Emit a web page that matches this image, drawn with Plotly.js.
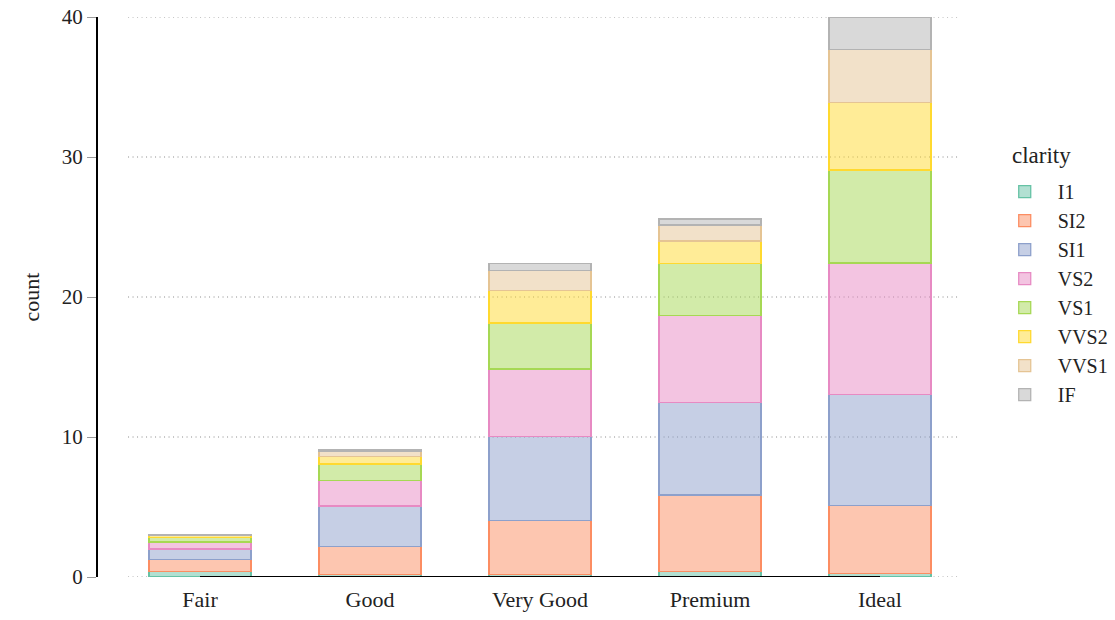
<!DOCTYPE html>
<html>
<head>
<meta charset="utf-8">
<script src="https://cdn.plot.ly/plotly-3.0.1.min.js"></script>
<style>html,body{margin:0;padding:0;background:#fff;}#chart{width:1115px;height:620px;}</style>
</head>
<body>
<div id="chart"></div>
<script>
var cuts = ["Fair", "Good", "Very Good", "Premium", "Ideal"];
var clarityLevels = ["I1", "SI2", "SI1", "VS2", "VS1", "VVS2", "VVS1", "IF"];
var I1   = [0.39, 0.18, 0.16, 0.38, 0.27];
var SI2  = [0.86, 2.00, 3.89, 5.47, 4.82];
var SI1  = [0.76, 2.89, 6.01, 6.63, 7.94];
var VS2  = [0.48, 1.81, 4.80, 6.22, 9.40];
var VS1  = [0.32, 1.20, 3.29, 3.69, 6.65];
var VVS2 = [0.13, 0.53, 2.29, 1.61, 4.83];
var VVS1 = [0.03, 0.34, 1.46, 1.14, 3.79];
var IF   = [0.02, 0.13, 0.50, 0.43, 2.25];
var yTicks = [0, 10, 20, 30, 40];

var seriesValues = [I1, SI2, SI1, VS2, VS1, VVS2, VVS1, IF];
var lineColors = ["rgb(102,194,165)", "rgb(252,141,98)", "rgb(141,160,203)", "rgb(231,138,195)",
                  "rgb(166,216,84)", "rgb(255,217,47)", "rgb(229,196,148)", "rgb(179,179,179)"];
var fillColors = ["rgba(102,194,165,0.5)", "rgba(252,141,98,0.5)", "rgba(141,160,203,0.5)", "rgba(231,138,195,0.5)",
                  "rgba(166,216,84,0.5)", "rgba(255,217,47,0.5)", "rgba(229,196,148,0.5)", "rgba(179,179,179,0.5)"];

var FONT = "Liberation Serif, Times New Roman, serif";
var traces = clarityLevels.map(function (name, i) {
  return {
    type: "bar",
    name: name,
    x: cuts,
    y: seriesValues[i],
    width: 0.6,
    legendgroup: name,
    marker: {color: fillColors[i], line: {color: lineColors[i], width: 1.3}},
    hoverinfo: "x+y+name"
  };
});

var shapes = yTicks.map(function (t) {
  return {type: "line", xref: "paper", yref: "y", x0: 0.034, x1: 0.972, y0: t, y1: t,
          line: {color: "#8a8a8a", width: 1, dash: "1px,3.5px"}, layer: "below"};
});
shapes.push({type: "line", xref: "x", yref: "y", x0: cuts[0], x1: cuts[cuts.length - 1], y0: 0, y1: 0,
             line: {color: "#000", width: 2}, layer: "above"});

var layout = {
  width: 1115, height: 620,
  margin: {l: 98, r: 133, t: 17, b: 43, autoexpand: false},
  paper_bgcolor: "#fff", plot_bgcolor: "#fff",
  barmode: "stack",
  font: {family: FONT, color: "#222", size: 18},
  xaxis: {
    type: "category", range: [-0.6, 4.6], showgrid: false, zeroline: false, showline: false,
    ticks: "", ticklabelstandoff: 7, tickfont: {size: 22, family: FONT, color: "#222"}
  },
  yaxis: {
    range: [0, 40], tickvals: yTicks, showgrid: false, zeroline: false,
    showline: true, linecolor: "#000", linewidth: 2,
    ticks: "outside", ticklen: 9, tickwidth: 1, tickcolor: "#999",
    tickfont: {size: 21, family: FONT, color: "#222"},
    title: {text: "count", font: {size: 22, family: FONT, color: "#222"}, standoff: 16}
  },
  legend: {
    x: 1.011, xanchor: "left", y: 0.723, yanchor: "top",
    traceorder: "grouped", tracegroupgap: 0, itemwidth: 56,
    font: {size: 20, family: FONT, color: "#222"}, bgcolor: "rgba(0,0,0,0)"
  },
  annotations: [{
    text: "clarity", xref: "paper", yref: "paper", x: 1.032, y: 0.727, xanchor: "left", yanchor: "bottom",
    showarrow: false, font: {size: 23, family: FONT, color: "#222"}
  }],
  shapes: shapes,
  showlegend: true
};

Plotly.newPlot("chart", traces, layout, {displayModeBar: false, staticPlot: true});
</script>
</body>
</html>
